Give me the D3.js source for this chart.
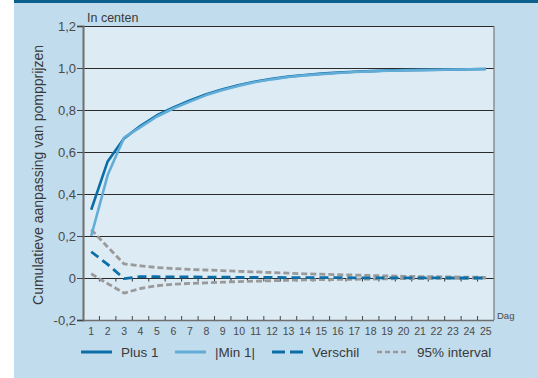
<!DOCTYPE html>
<html>
<head>
<meta charset="utf-8">
<script src="https://cdn.jsdelivr.net/npm/d3@7"></script>
<style>
  html, body { margin: 0; padding: 0; background: #ffffff; }
  svg { display: block; font-family: "Liberation Sans", Arial, sans-serif; }
</style>
</head>
<body>
<svg id="chart" width="538" height="378"></svg>
<script>
// Days after the price change
const days = d3.range(1, 26);

// Cumulative pump-price adjustment (cents) per day
const plus1 = [0.325, 0.555, 0.665, 0.725, 0.775, 0.812, 0.845, 0.875, 0.899, 0.919, 0.936, 0.949, 0.959, 0.967, 0.973, 0.978, 0.982, 0.985, 0.988, 0.99, 0.991, 0.992, 0.993, 0.994, 0.995];
const min1  = [0.2, 0.49, 0.668, 0.718, 0.769, 0.807, 0.84, 0.871, 0.895, 0.916, 0.933, 0.946, 0.957, 0.965, 0.971, 0.976, 0.981, 0.984, 0.987, 0.989, 0.99, 0.991, 0.993, 0.994, 0.995];
const verschil = [0.125, 0.065, -0.003, 0.007, 0.006, 0.005, 0.005, 0.004, 0.004, 0.003, 0.003, 0.003, 0.002, 0.002, 0.002, 0.002, 0.001, 0.001, 0.001, 0.001, 0.001, 0.001, 0, 0, 0];
const upper95 = [0.23, 0.148, 0.067, 0.058, 0.05, 0.045, 0.041, 0.038, 0.035, 0.032, 0.029, 0.026, 0.023, 0.02, 0.018, 0.016, 0.014, 0.012, 0.01, 0.008, 0.007, 0.006, 0.005, 0.004, 0.003];
const lower95 = [0.02, -0.027, -0.072, -0.05, -0.037, -0.03, -0.026, -0.023, -0.02, -0.017, -0.015, -0.013, -0.011, -0.009, -0.008, -0.007, -0.006, -0.005, -0.004, -0.003, -0.003, -0.002, -0.002, -0.001, -0.001];

const yTicks = [-0.2, 0, 0.2, 0.4, 0.6, 0.8, 1.0, 1.2];
const gridValues = [0, 0.2, 0.4, 0.6, 0.8, 1.0];

const legendItems = [
  { label: "Plus 1", key: "plus" },
  { label: "|Min 1|", key: "min" },
  { label: "Verschil", key: "diff" },
  { label: "95% interval", key: "ci" }
];

const styles = {
  plus: { stroke: "#0b6ea6", width: 2.6, dash: null },
  min:  { stroke: "#62acd8", width: 2.6, dash: null },
  diff: { stroke: "#0b6ea6", width: 2.8, dash: "9,5" },
  ci:   { stroke: "#9a9a9a", width: 2.8, dash: "6,3" }
};

const svg = d3.select("#chart");
const W = 538, H = 378;
const plot = { left: 83, right: 494, top: 26, bottom: 320 };

// Backgrounds
svg.append("rect").attr("x", 14).attr("y", 0).attr("width", W - 14).attr("height", H).attr("fill", "#c1dcec");
svg.append("rect").attr("x", 14).attr("y", 0).attr("width", W - 14).attr("height", 3).attr("fill", "#0d5f8c");
svg.append("rect").attr("x", plot.left).attr("y", plot.top)
  .attr("width", plot.right - plot.left).attr("height", plot.bottom - plot.top)
  .attr("fill", "#ddebf4");

const x = d3.scaleBand().domain(days).range([plot.left, plot.right]).padding(0);
const y = d3.scaleLinear().domain([-0.2, 1.2]).range([plot.bottom, plot.top]);
const cx = d => x(d) + x.bandwidth() / 2;

// Horizontal grid lines
svg.append("g").selectAll("line").data(gridValues).join("line")
  .attr("x1", plot.left).attr("x2", plot.right)
  .attr("y1", d => Math.round(y(d)) + 0.5).attr("y2", d => Math.round(y(d)) + 0.5)
  .attr("stroke", "#2b2b2b").attr("stroke-width", 1);

// Top border
svg.append("line").attr("x1", plot.left).attr("x2", plot.right)
  .attr("y1", y(1.2) + 0.5).attr("y2", y(1.2) + 0.5)
  .attr("stroke", "#2b2b2b").attr("stroke-width", 1);
// Right border
svg.append("line").attr("x1", plot.right).attr("x2", plot.right)
  .attr("y1", plot.top).attr("y2", plot.bottom)
  .attr("stroke", "#7a7a7a").attr("stroke-width", 1.2);

// Day-boundary ticks on the zero line
const boundaries = days.slice(0, -1).map(d => x(d) + x.bandwidth());
svg.append("g").selectAll("line").data(boundaries).join("line")
  .attr("x1", d => d).attr("x2", d => d)
  .attr("y1", Math.round(y(0)) + 0.5).attr("y2", Math.round(y(0)) + 3.5)
  .attr("stroke", "#333").attr("stroke-width", 1);

// Y axis
const yAxis = d3.axisLeft(y).tickValues(yTicks).tickSize(6).tickPadding(1);
const gy = svg.append("g").attr("transform", `translate(${plot.left},0)`).call(yAxis);
gy.select(".domain").attr("stroke", "#6e6e6e").attr("stroke-width", 2);
gy.selectAll(".tick line").attr("stroke", "#444");
gy.selectAll(".tick text").attr("fill", "#4a4a4a").attr("font-size", 13)
  .text(d => d === 0 ? "0" : d3.format(".1f")(d).replace(".", ",").replace("−", "-"));

// X axis: labels centred in each day, ticks on the day boundaries
svg.append("line").attr("x1", plot.left).attr("x2", plot.right)
  .attr("y1", plot.bottom + 0.5).attr("y2", plot.bottom + 0.5)
  .attr("stroke", "#6e6e6e").attr("stroke-width", 1.5);
svg.append("g").selectAll("line").data(boundaries).join("line")
  .attr("x1", d => d).attr("x2", d => d)
  .attr("y1", plot.bottom).attr("y2", plot.bottom - 4)
  .attr("stroke", "#444").attr("stroke-width", 1);
svg.append("g").selectAll("text").data(days).join("text")
  .attr("x", d => cx(d)).attr("y", plot.bottom + 15)
  .attr("text-anchor", "middle").attr("font-size", 10.5).attr("fill", "#4a4a4a")
  .text(d => d);

svg.append("text").attr("x", plot.right + 3).attr("y", plot.bottom - 1)
  .attr("font-size", 9.5).attr("fill", "#4a4a4a").text("Dag");

svg.append("text").attr("x", plot.left + 4).attr("y", plot.top - 4)
  .attr("font-size", 12.5).attr("fill", "#3a3a3a").text("In centen");

svg.append("text")
  .attr("transform", "translate(43,175) rotate(-90)")
  .attr("text-anchor", "middle").attr("font-size", 14).attr("fill", "#3a3a3a")
  .text("Cumulatieve aanpassing van pompprijzen");

// Series
const line = d3.line().x((d, i) => cx(days[i])).y(d => y(d));
function drawSeries(values, key) {
  const s = styles[key];
  svg.append("path").datum(values)
    .attr("d", line).attr("fill", "none")
    .attr("stroke", s.stroke).attr("stroke-width", s.width)
    .attr("stroke-dasharray", s.dash).attr("stroke-linejoin", "round");
}
drawSeries(upper95, "ci");
drawSeries(lower95, "ci");
drawSeries(verschil, "diff");
drawSeries(plus1, "plus");
drawSeries(min1, "min");

// Legend
const legendX = [81, 175, 272, 377];
const legendY = 352;
const lg = svg.append("g").selectAll("g").data(legendItems).join("g")
  .attr("transform", (d, i) => `translate(${legendX[i]},${legendY})`);
lg.append("line").attr("x1", 0).attr("x2", 31).attr("y1", 0).attr("y2", 0)
  .attr("stroke", d => styles[d.key].stroke)
  .attr("stroke-width", d => d.key === "ci" ? 2.6 : 3)
  .attr("stroke-dasharray", d => d.key === "diff" ? "13,5" : (d.key === "ci" ? "5,3" : null));
lg.append("text").attr("x", 40).attr("y", 5)
  .attr("font-size", 13.5).attr("fill", "#3a3a3a").text(d => d.label);
</script>
</body>
</html>
